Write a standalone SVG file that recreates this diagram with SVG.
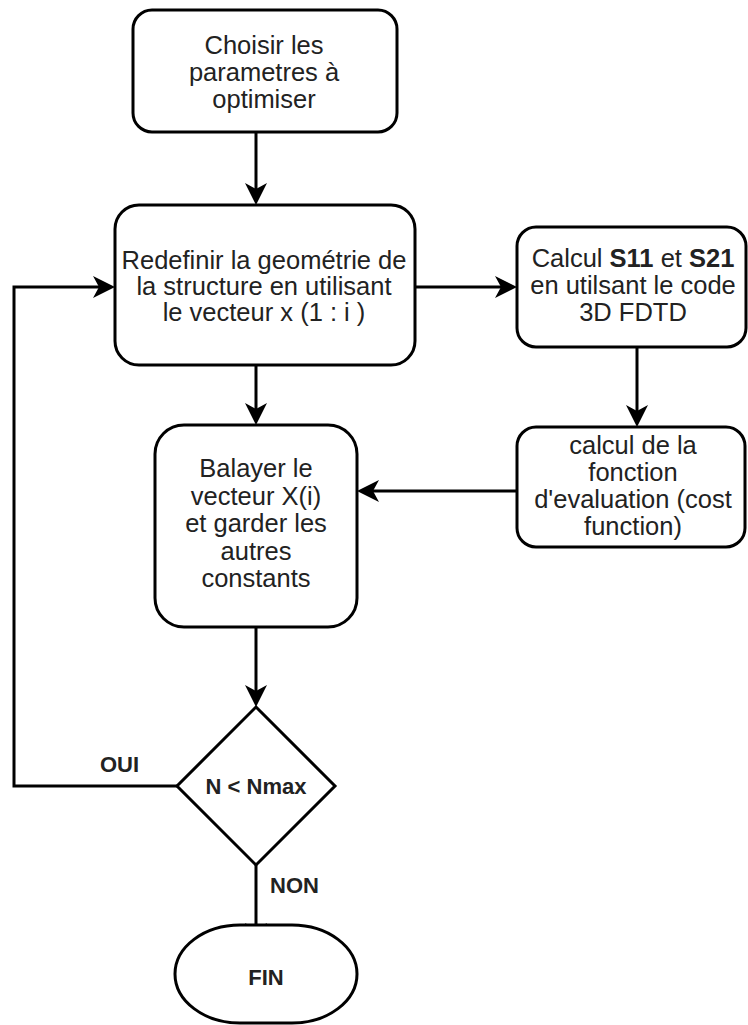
<svg xmlns="http://www.w3.org/2000/svg" width="748" height="1025" viewBox="0 0 748 1025">
<style>
.shape{fill:#fff;stroke:#000;stroke-width:3}
.conn{fill:none;stroke:#000;stroke-width:3}
.t{font-family:"Liberation Sans",Arial,sans-serif;font-size:25.5px;fill:#222;text-anchor:middle}
.b{font-weight:bold}
.lbl{font-family:"Liberation Sans",Arial,sans-serif;font-size:22px;font-weight:bold;fill:#222}
</style>
<defs>
<marker id="arr" markerUnits="userSpaceOnUse" markerWidth="22" markerHeight="22" refX="18" refY="11" orient="auto" overflow="visible">
<path d="M0,0 L22,11 L0,22 L6,11 Z" fill="#000"/>
</marker>
</defs>
<rect width="748" height="1025" fill="#fff"/>
<g id="connectors">
<path class="conn" d="M256,132 L256,201" marker-end="url(#arr)"/>
<path class="conn" d="M415,287 L513,287" marker-end="url(#arr)"/>
<path class="conn" d="M637,347 L637,423" marker-end="url(#arr)"/>
<path class="conn" d="M517,491 L361,491" marker-end="url(#arr)"/>
<path class="conn" d="M256,365 L256,421" marker-end="url(#arr)"/>
<path class="conn" d="M256,627 L256,703" marker-end="url(#arr)"/>
<path class="conn" d="M177,786 L14,786 L14,287 L111,287" marker-end="url(#arr)"/>
<path class="conn" d="M256,865 L256,941" marker-end="url(#arr)"/>
</g>
<g id="n1">
<rect class="shape" x="133" y="10" width="264" height="122" rx="19" ry="19"/>
<text class="t"><tspan x="264" y="54">Choisir les</tspan><tspan x="264" y="81">parametres à</tspan><tspan x="264" y="108">optimiser</tspan></text>
</g>
<g id="n2">
<rect class="shape" x="115" y="205" width="300" height="160" rx="24" ry="24"/>
<text class="t"><tspan x="264" y="269">Redefinir la geométrie de</tspan><tspan x="264" y="295">la structure en utilisant</tspan><tspan x="264" y="321">le vecteur x (1 : i )</tspan></text>
</g>
<g id="n3">
<rect class="shape" x="517" y="227" width="229" height="120" rx="19" ry="19"/>
<text class="t"><tspan x="633" y="267">Calcul <tspan class="b">S11</tspan> et <tspan class="b">S21</tspan></tspan><tspan x="633" y="294">en utilsant le code</tspan><tspan x="633" y="321">3D FDTD</tspan></text>
</g>
<g id="n4">
<rect class="shape" x="517" y="427" width="228" height="120" rx="19" ry="19"/>
<text class="t"><tspan x="633" y="454">calcul de la</tspan><tspan x="633" y="481">fonction</tspan><tspan x="633" y="508">d'evaluation (cost</tspan><tspan x="633" y="535">function)</tspan></text>
</g>
<g id="n5">
<rect class="shape" x="155" y="425" width="202" height="202" rx="29" ry="29"/>
<text class="t"><tspan x="256" y="477">Balayer le</tspan><tspan x="256" y="504.5">vecteur X(i)</tspan><tspan x="256" y="532">et garder les</tspan><tspan x="256" y="559.5">autres</tspan><tspan x="256" y="587">constants</tspan></text>
</g>
<g id="n6">
<polygon class="shape" points="256,707 335,786 256,865 177,786"/>
<text class="lbl" x="256" y="794" text-anchor="middle">N &lt; Nmax</text>
</g>
<g id="n7">
<rect class="shape" x="175" y="925" width="182" height="98" rx="65" ry="49"/>
<text class="lbl" x="266" y="985" text-anchor="middle">FIN</text>
</g>
<g id="labels">
<text class="lbl" x="100" y="772">OUI</text>
<text class="lbl" x="270" y="893">NON</text>
</g>
</svg>
